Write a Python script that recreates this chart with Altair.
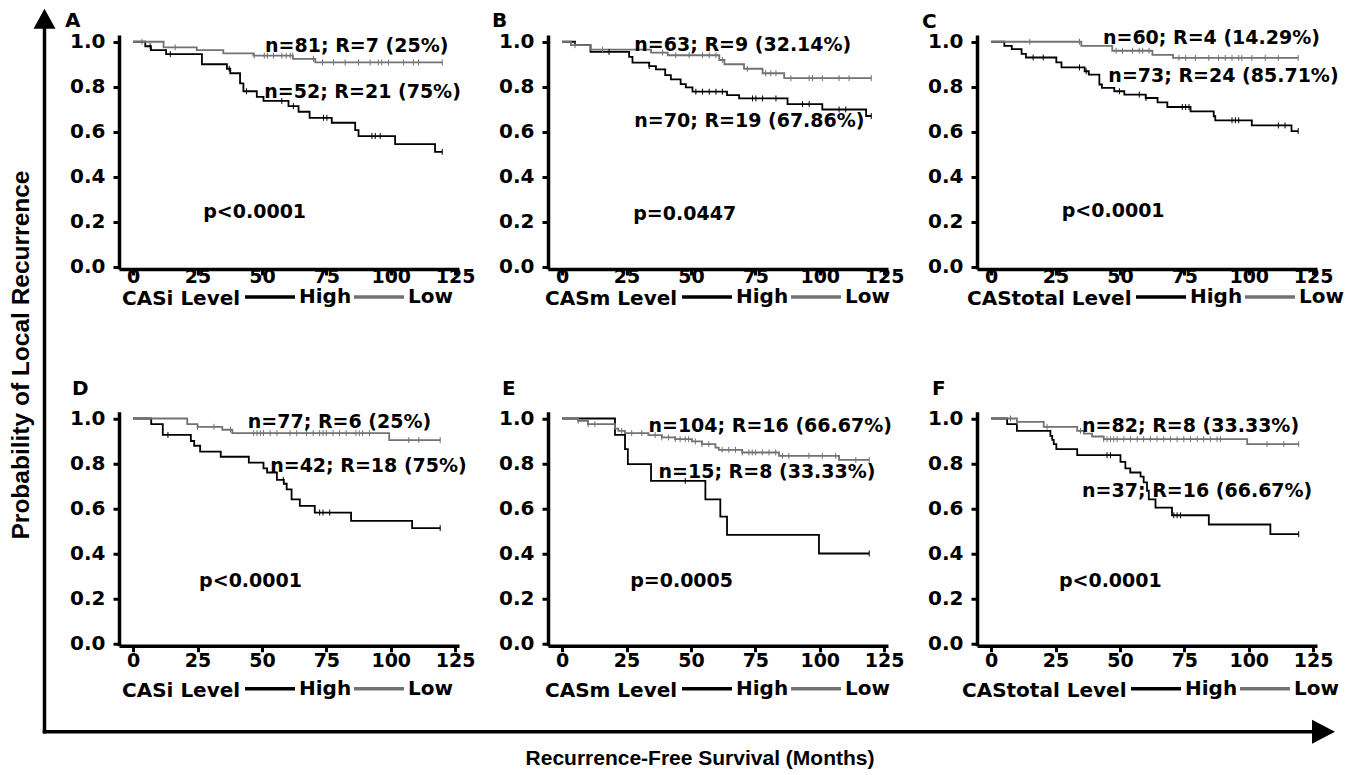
import altair as alt
import pandas as pd

FONT = "DejaVu Sans"
TITLE_FONT = "Liberation Sans"
HIGH_COLOR = "#000000"
LOW_COLOR = "#727272"

GROUPS = ["High", "Low"]
X_TICKS = [0, 25, 50, 75, 100, 125]
Y_TICKS = [0.0, 0.2, 0.4, 0.6, 0.8, 1.0]

# ---------------- Panel A (CASi) ----------------
A_high_t = [0, 4.7, 6.9, 12.8, 26.7, 36.4, 37.7, 41.5, 42.8, 48.0, 50.6, 60.3, 64.2, 68.5, 77.1, 86.2, 87.5, 101.7, 117.2, 120]
A_high_s = [1.0, 0.98, 0.963, 0.945, 0.90, 0.88, 0.86, 0.815, 0.78, 0.755, 0.737, 0.714, 0.689, 0.662, 0.64, 0.607, 0.581, 0.545, 0.511, 0.511]
A_low_t = [0, 11.8, 24.7, 35.0, 46.7, 62.0, 70.7, 120]
A_low_s = [1.0, 0.975, 0.963, 0.948, 0.938, 0.924, 0.908, 0.908]
A_high_c = [6.6, 14.4, 37.3, 44, 57.7, 62.2, 73.9, 75.2, 92.7, 94, 95.9, 120]
A_low_c = [3.4, 16.3, 47, 50.9, 52.1, 54.5, 57.7, 59.4, 61, 61.9, 70, 73.5, 77.8, 82.3, 87.5, 92, 95.2, 96.5, 99.1, 105, 108.8, 110.8, 120]

# ---------------- Panel B (CASm) ----------------
B_high_t = [0, 5, 11, 26, 27.3, 33.8, 36.4, 40, 42.2, 46, 48, 50.6, 64, 68.7, 87.5, 101, 118, 120]
B_high_s = [1.0, 0.985, 0.955, 0.933, 0.907, 0.892, 0.877, 0.852, 0.833, 0.812, 0.797, 0.778, 0.763, 0.748, 0.723, 0.699, 0.67, 0.67]
B_low_t = [0, 3.4, 11, 34.5, 41, 61, 63, 70.6, 77.8, 86.2, 120]
B_low_s = [1.0, 0.985, 0.965, 0.952, 0.94, 0.919, 0.9, 0.88, 0.86, 0.838, 0.838]
B_high_c = [18.2, 33.8, 51.9, 54.5, 57.1, 59.7, 62.2, 73.9, 75.2, 77.8, 83, 93.3, 95.9, 107.5, 110.1, 120]
B_low_c = [5, 15.7, 39, 44.1, 49.3, 54.5, 57.1, 59.7, 62.2, 71.9, 79, 81, 83, 88.8, 95.9, 97.2, 101, 107.5, 111.4, 120]

# ---------------- Panel C (CAStotal) ----------------
C_high_t = [0, 5.1, 8, 11.8, 13.5, 25.3, 27.3, 36.3, 37.9, 42, 43, 47.8, 51.7, 60, 64.6, 68.4, 77.4, 86.4, 87, 101.2, 116.6, 119.2]
C_high_s = [1.0, 0.982, 0.967, 0.946, 0.93, 0.908, 0.886, 0.869, 0.854, 0.81, 0.795, 0.78, 0.765, 0.75, 0.731, 0.71, 0.691, 0.669, 0.651, 0.628, 0.603, 0.603]
C_low_t = [0, 35, 47, 62.6, 70.6, 119.2]
C_low_s = [1.0, 0.982, 0.96, 0.942, 0.928, 0.928]
C_high_c = [16.3, 20.2, 34.3, 36.9, 49.8, 57.5, 60.1, 74.2, 75.5, 76.8, 93.5, 94.8, 96.1, 111.5, 114.1, 119.2]
C_low_c = [15, 34.3, 48.5, 51, 54.9, 57.5, 58.8, 61.3, 72.9, 75.5, 79.3, 84.5, 88.3, 90.9, 93.5, 96.1, 97.3, 101.2, 106.4, 111.5, 119.2]

# ---------------- Panel D (CASi) ----------------
D_high_t = [0, 7, 11.5, 22.4, 23.7, 26, 34, 44.9, 50.6, 52, 55.8, 58.5, 59.6, 61.5, 64.7, 70.5, 84.6, 108.3, 119.2]
D_high_s = [1.0, 0.975, 0.927, 0.9, 0.879, 0.853, 0.83, 0.804, 0.778, 0.76, 0.727, 0.71, 0.685, 0.641, 0.612, 0.582, 0.545, 0.513, 0.513]
D_low_t = [0, 21, 25, 34.6, 38.5, 99.4, 119.2]
D_low_s = [1.0, 0.975, 0.963, 0.95, 0.935, 0.904, 0.904]
D_high_c = [13.5, 58.3, 72.4, 73.7, 76.3, 119.2]
D_low_c = [25, 31.4, 37.8, 46.8, 48.1, 49.4, 50.6, 53.2, 55.8, 60.9, 63.5, 67.3, 69.9, 72.4, 73.7, 75, 77.6, 80.1, 82.7, 86.5, 87.8, 89.1, 91.7, 107, 110.9, 119.2]

# ---------------- Panel E (CASm) ----------------
E_high_t = [0, 20.5, 24.4, 25.5, 34.5, 55.6, 61.4, 64, 99.7, 119.2]
E_high_s = [1.0, 0.927, 0.864, 0.797, 0.723, 0.641, 0.564, 0.483, 0.40, 0.40]
E_low_t = [0, 6.2, 10, 20.5, 21.8, 24.4, 33.5, 38.7, 43.9, 50.4, 54.3, 59.5, 60.8, 69.9, 84.2, 107.5, 119.2]
E_low_s = [1.0, 0.99, 0.975, 0.955, 0.945, 0.935, 0.926, 0.916, 0.908, 0.898, 0.886, 0.871, 0.861, 0.849, 0.834, 0.816, 0.816]
E_high_c = [47.8, 119.2]
E_low_c = [6.2, 10.1, 12.7, 23.1, 27, 30.9, 36.1, 38.7, 41.3, 43.9, 45.8, 47.8, 49.1, 51.7, 54.3, 56.9, 62.1, 64.7, 67.3, 69.9, 72.5, 73.8, 75.1, 77.7, 80.3, 82.9, 85.5, 88, 95.8, 101, 106.2, 114, 119.2]

# ---------------- Panel F (CAStotal) ----------------
F_high_t = [0, 6.2, 10, 23.0, 23.7, 24.3, 25.3, 33.4, 50.2, 52.1, 54, 58, 59.2, 60.5, 61.2, 63.8, 70.2, 84.5, 108.4, 119.4]
F_high_s = [1.0, 0.975, 0.945, 0.923, 0.905, 0.886, 0.864, 0.837, 0.807, 0.778, 0.76, 0.742, 0.716, 0.679, 0.641, 0.604, 0.57, 0.529, 0.486, 0.486]
F_low_t = [0, 10, 20.4, 33.4, 36, 39.2, 43.7, 99.4, 119.4]
F_low_s = [1.0, 0.985, 0.963, 0.945, 0.933, 0.92, 0.908, 0.886, 0.886]
F_high_c = [45, 46.3, 70.9, 72.2, 73.5, 119.4]
F_low_c = [7.5, 10.1, 21.7, 34.7, 43.7, 45, 46.3, 47.6, 48.9, 51.5, 54.1, 56.7, 59.2, 61.8, 64.4, 67, 69.6, 72.2, 74.8, 77.4, 80, 82.5, 85.1, 87.7, 89, 107.1, 113.6, 119.4]

# ---------------- Annotations (text, time, probability) ----------------
A_notes = ["n=81; R=7 (25%)", "n=52; R=21 (75%)", "p<0.0001"]
A_note_t = [51.2, 50.9, 27.2]
A_note_s = [0.956, 0.748, 0.215]
B_notes = ["n=63; R=9 (32.14%)", "n=70; R=19 (67.86%)", "p=0.0447"]
B_note_t = [28.0, 28.0, 27.6]
B_note_s = [0.96, 0.62, 0.207]
C_notes = ["n=60; R=4 (14.29%)", "n=73; R=24 (85.71%)", "p<0.0001"]
C_note_t = [43.4, 45.5, 27.4]
C_note_s = [0.99, 0.82, 0.22]
D_notes = ["n=77; R=6 (25%)", "n=42; R=18 (75%)", "p<0.0001"]
D_note_t = [44.5, 53.2, 25.6]
D_note_s = [0.959, 0.763, 0.252]
E_notes = ["n=104; R=16 (66.67%)", "n=15; R=8 (33.33%)", "p=0.0005"]
E_note_t = [33.5, 37.4, 26.4]
E_note_s = [0.938, 0.736, 0.252]
F_notes = ["n=82; R=8 (33.33%)", "n=37; R=16 (66.67%)", "p<0.0001"]
F_note_t = [35.3, 35.3, 26.3]
F_note_s = [0.941, 0.652, 0.252]

LEVELS = ["CASi Level", "CASm Level", "CAStotal Level"]
Y_TITLE = "Probability of Local Recurrence"
X_TITLE = "Recurrence-Free Survival (Months)"

PW, PH = 340, 234
X_DOMAIN = [-5.5, 126.5]
Y_DOMAIN = [-0.01, 1.03]


def surv_at(ts, ss, c):
    v = ss[0]
    for t, s in zip(ts, ss):
        if t <= c:
            v = s
    return v


def panel(letter, level, hi_t, hi_s, lo_t, lo_s, hi_c, lo_c, notes, note_t, note_s,
          letter_pos, legend_pos, x_label_pad, decorate=False):
    curves = pd.concat([
        pd.DataFrame({"t": hi_t, "s": hi_s, "group": "High"}),
        pd.DataFrame({"t": lo_t, "s": lo_s, "group": "Low"}),
    ], ignore_index=True)
    cens = pd.concat([
        pd.DataFrame({"t": [min(c, hi_t[-1]) for c in hi_c],
                      "s": [surv_at(hi_t, hi_s, c) for c in hi_c], "group": "High"}),
        pd.DataFrame({"t": [min(c, lo_t[-1]) for c in lo_c],
                      "s": [surv_at(lo_t, lo_s, c) for c in lo_c], "group": "Low"}),
    ], ignore_index=True)
    note_df = pd.DataFrame({"t": note_t, "s": note_s, "label": notes})

    x = alt.X("t:Q", scale=alt.Scale(domain=X_DOMAIN, nice=False, zero=False),
              axis=alt.Axis(values=X_TICKS, title=None, labelPadding=x_label_pad,
                            labelFlush=False, format="d", labelFontSize=19))
    y = alt.Y("s:Q", scale=alt.Scale(domain=Y_DOMAIN, nice=False, zero=False),
              axis=alt.Axis(values=Y_TICKS, title=None, format=".1f", labelPadding=8,
                            labelFlush=False, labelFontSize=20))
    color = alt.Color(
        "group:N",
        scale=alt.Scale(domain=GROUPS, range=[HIGH_COLOR, LOW_COLOR]),
        legend=alt.Legend(
            title=level, orient="none", legendX=legend_pos[0], legendY=legend_pos[1],
            direction="horizontal", titleOrient="left", titleAnchor="middle",
            titleBaseline="top", titleFont=FONT, titleFontSize=20,
            titleFontWeight="bold", titleColor="black", titlePadding=2, titleLimit=400,
            labelFont=FONT, labelFontSize=20, labelFontWeight="bold", labelColor="black",
            labelOffset=2, symbolType="stroke", symbolSize=2500, symbolStrokeWidth=3.5,
            columnPadding=-6, padding=0, offset=0,
        ),
    )

    lines = alt.Chart(curves).mark_line(interpolate="step-after", strokeWidth=1.8).encode(
        x=x, y=y, color=color, detail="group:N")
    ticks = alt.Chart(cens).mark_point(shape="M0,-1L0,1", size=36, filled=False,
                                       strokeWidth=1, opacity=1).encode(
        x="t:Q", y="s:Q", color=alt.Color("group:N", legend=None))
    texts = alt.Chart(note_df).mark_text(align="left", baseline="alphabetic", font=FONT,
                                         fontSize=19, fontWeight="bold", color="black").encode(
        x="t:Q", y="s:Q", text="label:N")
    one = pd.DataFrame({"k": [0]})
    lab = alt.Chart(one).mark_text(align="left", baseline="alphabetic", font=FONT,
                                   fontSize=20, fontWeight="bold", color="black").encode(
        x=alt.value(letter_pos[0]), y=alt.value(letter_pos[1]), text=alt.value(letter))
    layers = [lines, ticks, texts, lab]

    if decorate:
        vline = alt.Chart(one).mark_rule(color="black", strokeWidth=3.5).encode(
            x=alt.value(-74.5), y=alt.value(-8), y2=alt.value(698.5))
        hline = alt.Chart(one).mark_rule(color="black", strokeWidth=3.5).encode(
            x=alt.value(-76.25), x2=alt.value(1196), y=alt.value(696.75))
        up = alt.Chart(one).mark_point(shape="M0,-1L1.1,1L-1.1,1Z", size=400, filled=True,
                                       color="black", opacity=1, strokeWidth=0).encode(
            x=alt.value(-74.5), y=alt.value(-16.25))
        right = alt.Chart(one).mark_point(shape="M1,0L-1,-1.04L-1,1.04Z", size=529,
                                          filled=True, color="black", opacity=1,
                                          strokeWidth=0).encode(
            x=alt.value(1204.5), y=alt.value(696.75))
        ytitle = alt.Chart(one).mark_text(angle=270, font=TITLE_FONT, fontSize=24.5,
                                          fontWeight="bold", color="black", align="center",
                                          baseline="middle").encode(
            x=alt.value(-97), y=alt.value(320), text=alt.value(Y_TITLE))
        xtitle = alt.Chart(one).mark_text(font=TITLE_FONT, fontSize=21, fontWeight="bold",
                                          color="black", align="center",
                                          baseline="middle").encode(
            x=alt.value(581), y=alt.value(723.75), text=alt.value(X_TITLE))
        layers += [vline, hline, up, right, ytitle, xtitle]

    return alt.layer(*layers).properties(width=PW, height=PH)


pA = panel("A", LEVELS[0], A_high_t, A_high_s, A_low_t, A_low_s, A_high_c, A_low_c,
           A_notes, A_note_t, A_note_s, (-54, -8.25), (3, 235), -8, decorate=True)
pB = panel("B", LEVELS[1], B_high_t, B_high_s, B_low_t, B_low_s, B_high_c, B_low_c,
           B_notes, B_note_t, B_note_s, (-56, -8.25), (-3, 235), -8)
pC = panel("C", LEVELS[2], C_high_t, C_high_s, C_low_t, C_low_s, C_high_c, C_low_c,
           C_notes, C_note_t, C_note_s, (-55, -7), (-10, 235), -8)
pD = panel("D", LEVELS[0], D_high_t, D_high_s, D_low_t, D_low_s, D_high_c, D_low_c,
           D_notes, D_note_t, D_note_s, (-47, -17), (3, 250), 0)
pE = panel("E", LEVELS[1], E_high_t, E_high_s, E_low_t, E_low_s, E_high_c, E_low_c,
           E_notes, E_note_t, E_note_s, (-46, -17), (-3, 250), 0)
pF = panel("F", LEVELS[2], F_high_t, F_high_s, F_low_t, F_low_s, F_high_c, F_low_c,
           F_notes, F_note_t, F_note_s, (-45, -17), (-15, 250), 0)

chart = alt.concat(
    pA, pB, pC, pD, pE, pF, columns=3,
    spacing={"row": 142.75, "column": 89}, bounds="flush",
).resolve_scale(color="independent").resolve_legend(color="independent").properties(
    padding={"left": 1, "top": 0, "right": 4, "bottom": 4}
).configure_view(stroke=None).configure_axis(
    labelFont=FONT, labelFontSize=18, labelFontWeight="bold", labelColor="black",
    domainColor="black", domainWidth=3.5, tickColor="black", tickWidth=3, tickSize=6,
    grid=False,
)

chart.save("out.html", embed_options={"renderer": "svg", "actions": False})
